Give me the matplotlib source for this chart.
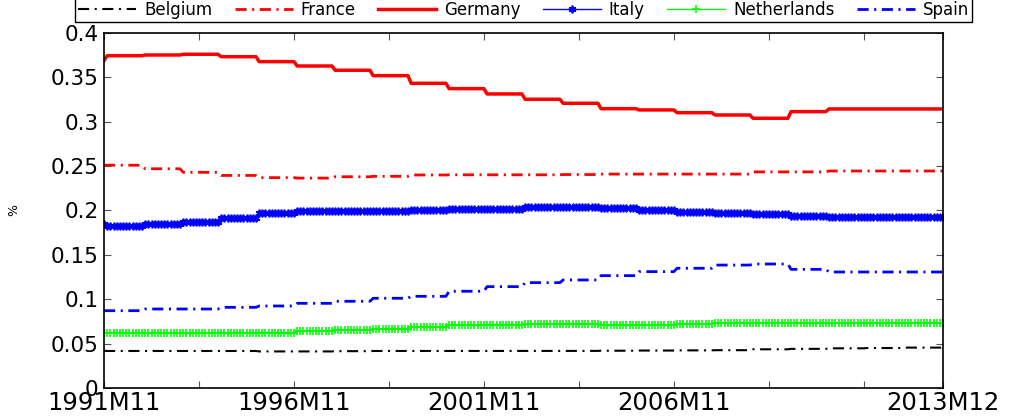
import numpy as np
import matplotlib
matplotlib.use("Agg")
import matplotlib.pyplot as plt

# monthly data 1991M11..2013M12, values change once a year (every December)
# segment lengths: first month, 22 twelve-month blocks, last month
seg_len = [1] + [12] * 22 + [1]

belgium = [0.042, 0.0417, 0.0417, 0.0417, 0.0417, 0.0412, 0.0412, 0.0415, 0.0417, 0.0417,
           0.0417, 0.0417, 0.0417, 0.0418, 0.0420, 0.0422, 0.0424, 0.0426, 0.0436, 0.0441,
           0.0447, 0.0450, 0.0455, 0.0455]
france = [0.251, 0.251, 0.247, 0.243, 0.2395, 0.237, 0.2365, 0.238, 0.2385, 0.2400,
          0.2402, 0.2402, 0.2402, 0.2405, 0.241, 0.241, 0.241, 0.241, 0.2435, 0.2435,
          0.2445, 0.2445, 0.2445, 0.2445]
germany = [0.369, 0.3744, 0.3752, 0.376, 0.3733, 0.3677, 0.3628, 0.358, 0.3519, 0.3433,
           0.3373, 0.3313, 0.3253, 0.3208, 0.3147, 0.3133, 0.3102, 0.3076, 0.3039, 0.3114,
           0.3144, 0.3144, 0.3144, 0.3144]
italy = [0.1848, 0.183, 0.1848, 0.1874, 0.1912, 0.1976, 0.1991, 0.1991, 0.1991, 0.2006,
         0.2021, 0.2021, 0.2036, 0.2036, 0.2025, 0.2002, 0.1983, 0.1968, 0.1957, 0.1938,
         0.1927, 0.1927, 0.1927, 0.1927]
netherlands = [0.0623, 0.0620, 0.0620, 0.0620, 0.0620, 0.0625, 0.0642, 0.0653, 0.0668, 0.0691,
               0.0706, 0.0715, 0.0717, 0.0717, 0.0705, 0.0710, 0.0718, 0.0736, 0.0736, 0.0736,
               0.0736, 0.0736, 0.0736, 0.0736]
spain = [0.0871, 0.0871, 0.089, 0.089, 0.0909, 0.0924, 0.0954, 0.0977, 0.1011, 0.1033,
         0.109, 0.1142, 0.1187, 0.1217, 0.1266, 0.1311, 0.1349, 0.1385, 0.1397, 0.1337,
         0.1307, 0.1307, 0.1307, 0.1307]

xtick_pos = [0, 30, 60, 90, 120, 150, 180, 210, 240, 265]
xtick_labels = ['1991M11', '', '1996M11', '', '2001M11', '', '2006M11', '', '', '2013M12']
ytick_pos = [0, 0.05, 0.1, 0.15, 0.2, 0.25, 0.3, 0.35, 0.4]
ytick_labels = ['0', '0.05', '0.1', '0.15', '0.2', '0.25', '0.3', '0.35', '0.4']

plt.rcParams['lines.scale_dashes'] = False
dashdot = (8, 4, 1.5, 4)

n = sum(seg_len)
x = np.arange(n)

fig = plt.figure(figsize=(10.22, 4.19), dpi=100)
ax = fig.add_axes([0.1018, 0.074, 0.8209, 0.8473])

ax.plot(x, np.repeat(belgium, seg_len), color='k', lw=1.5, dashes=dashdot, label='Belgium')
ax.plot(x, np.repeat(france, seg_len), color='r', lw=2, dashes=dashdot, label='France')
ax.plot(x, np.repeat(germany, seg_len), color='r', lw=2.5, label='Germany')
ax.plot(x, np.repeat(italy, seg_len), color='b', lw=1, marker=(6, 2, 0), ms=5.5, mew=1.3, label='Italy')
ax.plot(x, np.repeat(netherlands, seg_len), color=(0, 1, 0), lw=1, marker='+', ms=6, mew=1.2, label='Netherlands')
ax.plot(x, np.repeat(spain, seg_len), color='b', lw=2, dashes=dashdot, label='Spain')

ax.set_xlim(0, n - 1)
ax.set_ylim(0, 0.4)
ax.set_xticks(xtick_pos)
ax.set_xticklabels(xtick_labels, fontsize=17.5)
ax.set_yticks(ytick_pos)
ax.set_yticklabels(ytick_labels, fontsize=15.5)
ax.tick_params(direction='in', length=5, width=0.8, top=True, right=True, color='#555555')
ax.tick_params(axis='x', pad=2)
ax.tick_params(axis='y', pad=4)
for s in ax.spines.values():
    s.set_linewidth(1.2)

ax.set_ylabel('%', fontsize=9)
ax.yaxis.set_label_coords(-0.1, 0.5)

leg = ax.legend(loc='lower center', bbox_to_anchor=(0.5, 1.031), ncol=6, fontsize=12,
                frameon=True, fancybox=False, framealpha=1, edgecolor='k', numpoints=1,
                handlelength=3.5, handletextpad=0.45, columnspacing=1.35, borderpad=0.2,
                borderaxespad=0)
leg.get_frame().set_linewidth(1.0)

plt.savefig('out.png', dpi=100)
